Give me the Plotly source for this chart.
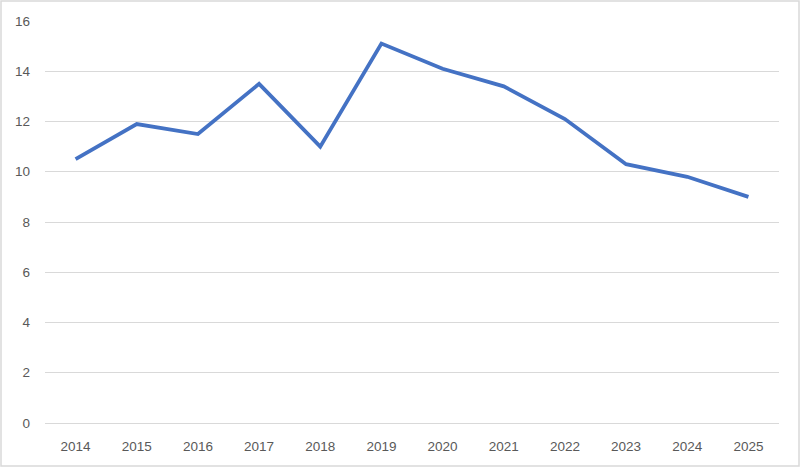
import plotly.graph_objects as go

# 연도별 값
years = ["2014", "2015", "2016", "2017", "2018", "2019",
         "2020", "2021", "2022", "2023", "2024", "2025"]
values = [10.5, 11.9, 11.5, 13.5, 11.0, 15.1, 14.1, 13.4, 12.1, 10.3, 9.8, 9.0]
y_ticks = [0, 2, 4, 6, 8, 10, 12, 14, 16]

W, H = 800, 467
ML, MR, MT, MB = 45, 21, 21, 44

fig = go.Figure()
fig.add_trace(go.Scatter(
    x=years, y=values, mode="lines",
    line=dict(color="#4472C4", width=3.8),
    hoverinfo="x+y",
))

pw = W - ML - MR
ph = H - MT - MB
# 바깥 테두리
fig.add_shape(
    type="rect", xref="paper", yref="paper",
    x0=(-ML + 1) / pw, x1=(pw + MR - 1) / pw,
    y0=(-MB + 1) / ph, y1=(ph + MT - 1) / ph,
    line=dict(color="#d9d9d9", width=1.5),
)

fig.update_layout(
    width=W, height=H,
    margin=dict(l=ML, r=MR, t=MT, b=MB),
    paper_bgcolor="white", plot_bgcolor="white",
    showlegend=False,
    font=dict(family="Liberation Sans, Arial, sans-serif", size=13.5, color="#595959"),
    xaxis=dict(
        type="category", range=[-0.5, 11.5],
        showgrid=False, zeroline=False,
        showline=False, ticks="", ticklabelstandoff=13,
    ),
    yaxis=dict(
        range=[0, 16], tickvals=y_ticks,
        showgrid=True, gridcolor="#d9d9d9", gridwidth=1,
        zeroline=True, zerolinecolor="#d9d9d9", zerolinewidth=1,
        showline=False, ticks="", ticklabelstandoff=14,
    ),
)

# 브라우저 기본 여백 제거, 모드바 숨김
fig.write_html(
    "out.html",
    config={"displayModeBar": False},
    post_script="document.body.style.margin='0';document.body.style.overflow='hidden';",
)
